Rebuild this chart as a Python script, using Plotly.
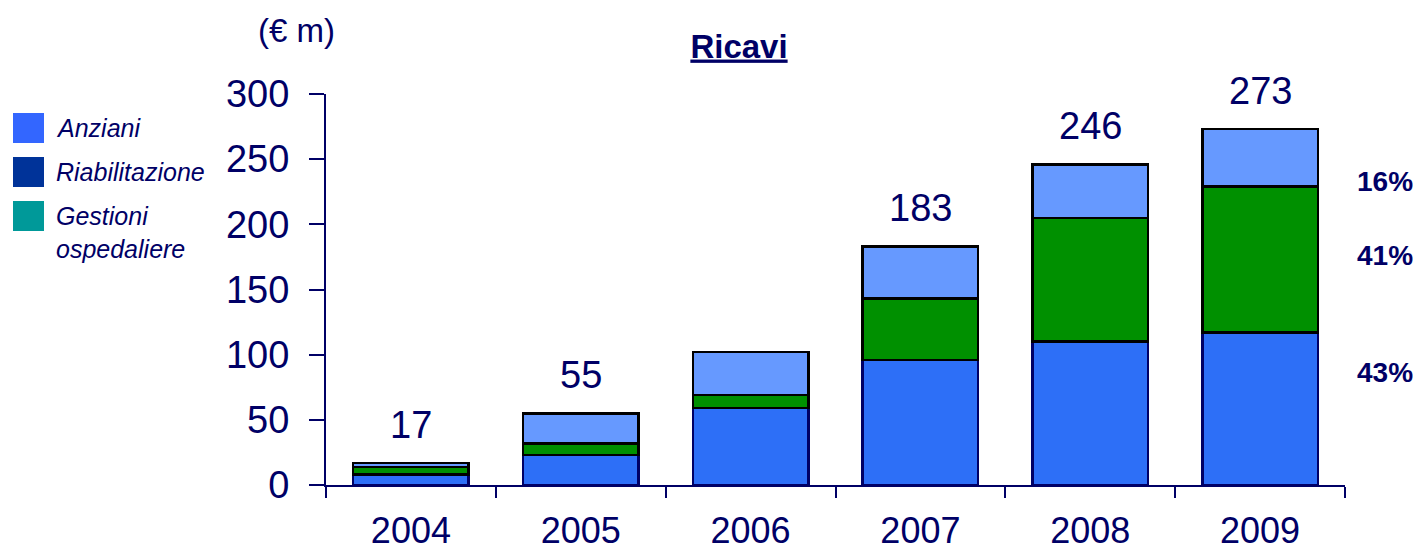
import plotly.graph_objects as go

years = ["2004", "2005", "2006", "2007", "2008", "2009"]
anziani = [8, 23, 59, 96, 110, 117]
riabilitazione = [6, 9, 10, 47, 95, 112]
gestioni = [3, 23, 33, 40, 41, 44]
totals = [17, 55, 102, 183, 246, 273]
total_labels = ["17", "55", "", "183", "246", "273"]
share_labels = ["16%", "41%", "43%"]
share_levels = [233, 176, 86]
legend_names = ["Anziani", "Riabilitazione", "Gestioni<br>ospedaliere"]
legend_colors = ["#3366FF", "#003399", "#009999"]

NAVY = "#000066"
FONT = "Liberation Sans, Arial, sans-serif"

# page has an 8px body margin; figure sized so the plot area lands where the reference has it
W, H = 1413, 543
L, R, T, B = 318, 76, 86, 66
PW, PH = W - L - R, H - T - B  # 1019 x 391


def px(xpage):
    return (xpage - 8 - L) / PW


def py(ypage):
    return (H - B - (ypage - 8)) / PH


fig = go.Figure()
fig.add_trace(go.Bar(x=years, y=anziani, name="Anziani",
                     marker=dict(color="#2D6FF7", line=dict(color=NAVY, width=2.5)),
                     showlegend=False))
fig.add_trace(go.Bar(x=years, y=riabilitazione, name="Riabilitazione",
                     marker=dict(color="#009000", line=dict(color="#000000", width=2.5)),
                     showlegend=False))
fig.add_trace(go.Bar(x=years, y=gestioni, name="Gestioni ospedaliere",
                     marker=dict(color="#6699FF", line=dict(color="#000000", width=2.5)),
                     showlegend=False))

# total labels above bars (category index positions)
for i, (tot, lab) in enumerate(zip(totals, total_labels)):
    if lab:
        fig.add_annotation(x=i, y=tot, text=lab, showarrow=False, xanchor="center",
                           yanchor="middle", yshift=38,
                           font=dict(size=38, color=NAVY, family=FONT))

# share labels at right
for lab, lvl in zip(share_labels, share_levels):
    fig.add_annotation(xref="paper", x=px(1385), yref="y", y=lvl, text=f"<b>{lab}</b>",
                       xanchor="center", yanchor="middle", showarrow=False,
                       font=dict(size=28, color=NAVY, family=FONT))

# legend drawn manually
sq_top = [113, 157, 201]
for name, col, top in zip(legend_names, legend_colors, sq_top):
    fig.add_shape(type="rect", xref="paper", yref="paper",
                  x0=px(13), x1=px(44), y0=py(top + 30), y1=py(top),
                  fillcolor=col, line=dict(width=0))
    fig.add_annotation(xref="paper", yref="paper", x=px(54),
                       y=py(top - 1), xanchor="left", yanchor="top",
                       align="left", text=f"<i>{name}</i>", showarrow=False,
                       font=dict(size=25, color=NAVY, family=FONT))

# unit label
fig.add_annotation(xref="paper", yref="paper", x=px(296), y=py(30),
                   xanchor="center", yanchor="middle",
                   text="(€ m)", showarrow=False, font=dict(size=33, color=NAVY, family=FONT))

fig.update_layout(
    width=W, height=H,
    margin=dict(l=L, r=R, t=T, b=B),
    barmode="stack", bargap=0.32,
    paper_bgcolor="white", plot_bgcolor="white",
    font=dict(family=FONT, color=NAVY),
    title=dict(text="<b><u>Ricavi</u></b>", x=(739 - 8) / W, xanchor="center",
               y=1 - (46 - 8) / H, yanchor="middle",
               font=dict(size=33, color=NAVY, family=FONT)),
    xaxis=dict(type="category", range=[-0.5, 5.5], autorange=False, automargin=False,
               showline=True, linecolor=NAVY, linewidth=2, tickangle=0,
               ticks="outside", tickson="boundaries", ticklen=11, tickwidth=2,
               tickcolor=NAVY, ticklabelstandoff=13,
               tickfont=dict(size=36, color=NAVY, family=FONT), showgrid=False),
    yaxis=dict(range=[0, 300], autorange=False, automargin=False,
               tickvals=[0, 50, 100, 150, 200, 250, 300],
               showline=True, linecolor=NAVY, linewidth=2, ticks="outside",
               ticklen=15, tickwidth=2, tickcolor=NAVY, ticklabelstandoff=12,
               tickfont=dict(size=38, color=NAVY, family=FONT), showgrid=False,
               zeroline=False),
)

fig.write_html("out.html")
